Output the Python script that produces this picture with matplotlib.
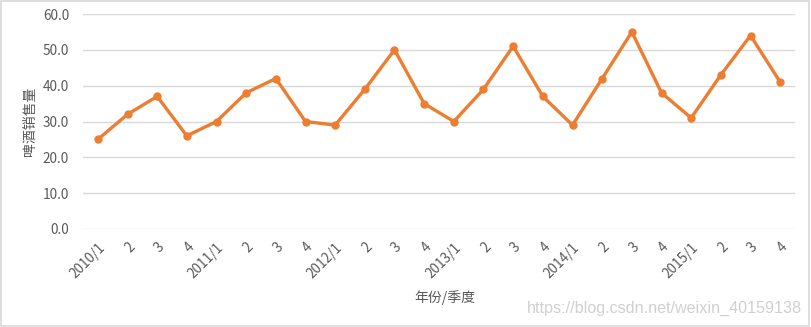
import matplotlib
matplotlib.use("Agg")
import matplotlib.pyplot as plt
from matplotlib.patches import Rectangle

plt.rcParams['font.family'] = ['Noto Sans CJK SC', 'DejaVu Sans']

tick_labels = ["2010/1", "2", "3", "4", "2011/1", "2", "3", "4",
               "2012/1", "2", "3", "4", "2013/1", "2", "3", "4",
               "2014/1", "2", "3", "4", "2015/1", "2", "3", "4"]
sales = [25, 32, 37, 26, 30, 38, 42, 30, 29, 39, 50, 35,
         30, 39, 51, 37, 29, 42, 55, 38, 31, 43, 54, 41]
y_ticks = [0, 10, 20, 30, 40, 50, 60]

fig = plt.figure(figsize=(8.11, 3.27), dpi=100)
fig.patches.append(Rectangle((0.001, 0.002), 0.997, 0.995, transform=fig.transFigure,
                             fill=False, edgecolor="#D9D9D9", linewidth=1.2))
ax = fig.add_axes([83/811, 1-229/327, (795-83)/811, (229-14)/327])
x = list(range(len(sales)))
ax.plot(x, sales, color="#ED7D31", linewidth=2.4, marker="o", markersize=5, zorder=3)
ax.set_xlim(-0.5, len(sales) - 0.5)
ax.set_ylim(0, 60)
ax.set_yticks(y_ticks)
ax.set_yticklabels([f"{v:.1f}" for v in y_ticks])
ax.set_xticks(x)
ax.set_xticklabels(tick_labels, rotation=45, ha="right", rotation_mode="anchor")
ax.grid(axis="y", color="#D9D9D9", linewidth=1)
ax.set_axisbelow(True)
for s in ax.spines.values():
    s.set_visible(False)
ax.tick_params(axis="both", length=0, colors="#595959", labelsize=9.8)
ax.tick_params(axis="x", pad=8)
ax.tick_params(axis="y", pad=10)
ax.set_ylabel("啤酒销售量", color="#595959", fontsize=10)
ax.yaxis.set_label_coords(-0.065, 0.5)
fig.text(445/811, 1-298/327, "年份/季度", ha="center", va="center", color="#595959", fontsize=10)
fig.text(802/811, 1-308/327, "https://blog.csdn.net/weixin_40159138", ha="right", va="center",
         color="#D0D0D0", fontsize=11.6, family=["Liberation Sans", "DejaVu Sans"])
fig.savefig("out.png", dpi=100)
